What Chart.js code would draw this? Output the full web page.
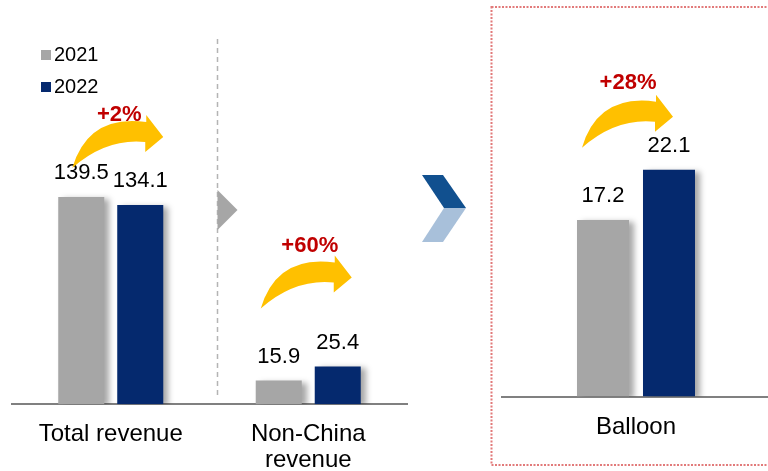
<!DOCTYPE html>
<html lang="en">
<head>
    <meta charset="UTF-8">
    <title>Revenue and Balloon</title>
    <script src="https://cdn.jsdelivr.net/npm/chart.js"></script>
    <style>
        html, body { margin: 0; padding: 0; background: #fff; overflow: hidden; }
        body { width: 768px; height: 471px; position: relative; overflow: hidden; }
        .panel { position: absolute; top: 0; }
        #leftPanel { left: 0; width: 480px; height: 491px; }
        #rightPanel { left: 490px; width: 280px; height: 471px; }
    </style>
</head>
<body>
    <div id="leftPanel" class="panel"><canvas id="revenueChart"></canvas></div>
    <div id="rightPanel" class="panel"><canvas id="balloonChart"></canvas></div>

    <script>
        // Data
        const years = ['2021', '2022'];
        const revenueCategories = ['Total revenue', ['Non-China', 'revenue']];
        const revenue2021 = [139.5, 15.9];
        const revenue2022 = [134.1, 25.4];
        const revenueGrowth = ['+2%', '+60%'];
        const balloonCategories = ['Balloon'];
        const balloon2021 = [17.2];
        const balloon2022 = [22.1];
        const balloonGrowth = ['+28%'];

        const FONT = "'Liberation Sans', Arial, sans-serif";
        const GREY = '#a6a6a6';
        const NAVY = '#05296e';

        // soft shadow on the right of every bar
        const barShadow = {
            id: 'barShadow',
            beforeDatasetsDraw(chart) {
                const ctx = chart.ctx;
                ctx.save();
                ctx.shadowColor = 'rgba(0,0,0,0.35)';
                ctx.shadowBlur = 6;
                ctx.shadowOffsetX = 5;
                ctx.shadowOffsetY = 2;
            },
            afterDatasetsDraw(chart) {
                chart.ctx.restore();
            }
        };

        // value above each bar
        const valueLabels = {
            id: 'valueLabels',
            afterDraw(chart) {
                const ctx = chart.ctx;
                ctx.save();
                ctx.font = '22px ' + FONT;
                ctx.fillStyle = '#000';
                ctx.textAlign = 'center';
                ctx.textBaseline = 'middle';
                chart.data.datasets.forEach((ds, d) => {
                    chart.getDatasetMeta(d).data.forEach((bar, i) => {
                        ctx.fillText(ds.data[i].toFixed(1), bar.x, bar.y - 24);
                    });
                });
                ctx.restore();
            }
        };

        // yellow curved arrow, tail at (x, y)
        function drawArrow(ctx, x, y) {
            ctx.save();
            ctx.translate(x, y);
            ctx.fillStyle = '#ffc000';
            ctx.beginPath();
            ctx.moveTo(0, 0);
            ctx.quadraticCurveTo(16, -54, 74, -46);
            ctx.lineTo(74, -53);
            ctx.lineTo(91, -31);
            ctx.lineTo(73, -16);
            ctx.lineTo(73, -26);
            ctx.quadraticCurveTo(34, -30, 0, 0);
            ctx.closePath();
            ctx.fill();
            ctx.restore();
        }

        const growthArrows = {
            id: 'growthArrows',
            afterDraw(chart, args, opts) {
                const ctx = chart.ctx;
                const first = chart.getDatasetMeta(0).data;
                const second = chart.getDatasetMeta(1).data;
                (opts.items || []).forEach((item, i) => {
                    const tailX = first[i].x + item.tailDx;
                    const tipY = second[i].y - item.tipLift;
                    drawArrow(ctx, tailX, tipY + 31);
                    ctx.save();
                    ctx.font = 'bold 22px ' + FONT;
                    ctx.fillStyle = '#c00000';
                    ctx.textAlign = 'center';
                    ctx.textBaseline = 'middle';
                    ctx.fillText(item.text, tailX + 90 + item.textDx, tipY + item.textDy);
                    ctx.restore();
                });
            }
        };

        // legend, divider and chevron of the left panel
        const leftDecor = {
            id: 'leftDecor',
            afterDraw(chart) {
                const ctx = chart.ctx;
                const area = chart.chartArea;
                ctx.save();

                ctx.font = '20px ' + FONT;
                ctx.textBaseline = 'middle';
                chart.data.datasets.forEach((ds, i) => {
                    ctx.fillStyle = ds.backgroundColor;
                    ctx.fillRect(area.left + 29, 50 + i * 32, 10, 10);
                    ctx.fillStyle = '#000';
                    ctx.fillText(ds.label, area.left + 42, 55 + i * 32);
                });

                const divX = chart.scales.x.getPixelForValue(0.5) + 8;
                ctx.strokeStyle = '#b4b4b4';
                ctx.lineWidth = 1.5;
                ctx.setLineDash([5, 4]);
                ctx.beginPath();
                ctx.moveTo(divX, 39);
                ctx.lineTo(divX, area.bottom - 8);
                ctx.stroke();
                ctx.setLineDash([]);

                ctx.fillStyle = GREY;
                ctx.beginPath();
                ctx.moveTo(divX, 190);
                ctx.lineTo(divX + 20, 210);
                ctx.lineTo(divX, 230);
                ctx.closePath();
                ctx.fill();

                const cx = area.right + 15;
                ctx.fillStyle = '#11508f';
                ctx.beginPath();
                ctx.moveTo(cx, 175);
                ctx.lineTo(cx + 21, 175);
                ctx.lineTo(cx + 44, 208);
                ctx.lineTo(cx + 22, 208);
                ctx.closePath();
                ctx.fill();
                ctx.fillStyle = '#a8c0da';
                ctx.beginPath();
                ctx.moveTo(cx + 22, 208);
                ctx.lineTo(cx + 44, 208);
                ctx.lineTo(cx + 21, 242);
                ctx.lineTo(cx, 242);
                ctx.closePath();
                ctx.fill();

                ctx.restore();
            }
        };

        // red dotted frame round the balloon panel
        const rightDecor = {
            id: 'rightDecor',
            beforeDraw(chart) {
                const ctx = chart.ctx;
                ctx.save();
                ctx.strokeStyle = '#e27a7a';
                ctx.lineWidth = 2;
                ctx.setLineDash([2, 1.5]);
                ctx.strokeRect(1.5, 7, chart.width + 10, 458);
                ctx.restore();
            }
        };

        function axisOptions(max, tickPadding) {
            return {
                x: {
                    grid: { display: false, drawTicks: false },
                    border: { display: true, color: '#808080', width: 2 },
                    ticks: {
                        color: '#000',
                        padding: tickPadding,
                        font: { family: FONT, size: 24, lineHeight: 1.1 }
                    }
                },
                y: { display: false, min: 0, max: max }
            };
        }

        new Chart(document.getElementById('revenueChart'), {
            type: 'bar',
            data: {
                labels: revenueCategories,
                datasets: [
                    { label: years[0], data: revenue2021, backgroundColor: GREY },
                    { label: years[1], data: revenue2022, backgroundColor: NAVY }
                ]
            },
            options: {
                responsive: true,
                maintainAspectRatio: false,
                animation: false,
                categoryPercentage: 0.5975,
                barPercentage: 0.78,
                layout: { padding: { left: 12, right: 73, top: 30, bottom: 0 } },
                scales: axisOptions(252, 17),
                plugins: {
                    legend: { display: false },
                    tooltip: { enabled: false },
                    growthArrows: {
                        items: [
                            { text: revenueGrowth[0], tailDx: -9, tipLift: 68, textDx: -43, textDy: -22 },
                            { text: revenueGrowth[1], tailDx: -18, tipLift: 89, textDx: -41, textDy: -32 }
                        ]
                    }
                }
            },
            plugins: [barShadow, valueLabels, growthArrows, leftDecor]
        });

        new Chart(document.getElementById('balloonChart'), {
            type: 'bar',
            data: {
                labels: balloonCategories,
                datasets: [
                    { label: years[0], data: balloon2021, backgroundColor: GREY },
                    { label: years[1], data: balloon2022, backgroundColor: NAVY }
                ]
            },
            options: {
                responsive: true,
                maintainAspectRatio: false,
                animation: false,
                categoryPercentage: 0.4925,
                barPercentage: 0.788,
                layout: { padding: { left: 12, right: 0, top: 30, bottom: 12 } },
                scales: axisOptions(35.7, 18),
                plugins: {
                    legend: { display: false },
                    tooltip: { enabled: false },
                    growthArrows: {
                        items: [
                            { text: balloonGrowth[0], tailDx: -21, tipLift: 53, textDx: -44, textDy: -34 }
                        ]
                    }
                }
            },
            plugins: [rightDecor, barShadow, valueLabels, growthArrows]
        });
    </script>
</body>
</html>
